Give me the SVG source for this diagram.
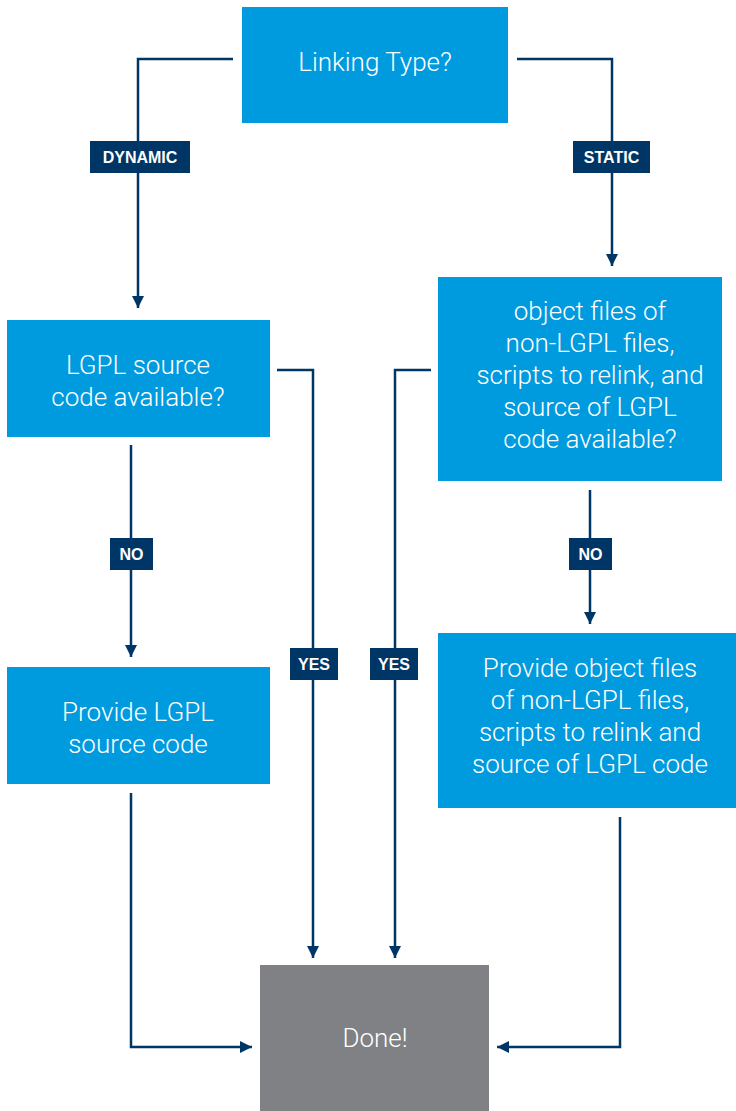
<svg xmlns="http://www.w3.org/2000/svg" width="736" height="1111" viewBox="0 0 736 1111">
<style>
.box{fill:#009ade}
.done{fill:#808184}
.t{font-family:Roboto,"Liberation Sans",sans-serif;font-weight:300;font-size:26px;fill:#fff;text-anchor:middle}
.lbl{fill:#003665}
.lt{font-family:"Liberation Sans",Arial,sans-serif;font-weight:bold;font-size:16px;fill:#fff;text-anchor:middle}
.c{fill:none;stroke:#003665;stroke-width:2.5}
</style>
<defs>
<marker id="ah" markerUnits="userSpaceOnUse" markerWidth="14" markerHeight="14" viewBox="0 0 14 14" refX="12" refY="7" orient="auto">
<path d="M0,1 L12,7 L0,13 Z" fill="#003665"/>
</marker>
</defs>
<g id="connectors">
<path class="c" d="M233,59 H138 V308" marker-end="url(#ah)"/>
<path class="c" d="M517,59 H612 V266" marker-end="url(#ah)"/>
<path class="c" d="M277,370 H313 V958" marker-end="url(#ah)"/>
<path class="c" d="M431,370 H395 V958" marker-end="url(#ah)"/>
<path class="c" d="M131,445 V657" marker-end="url(#ah)"/>
<path class="c" d="M590,490 V624" marker-end="url(#ah)"/>
<path class="c" d="M131,793 V1047 H252" marker-end="url(#ah)"/>
<path class="c" d="M620,817 V1047 H497" marker-end="url(#ah)"/>
</g>
<g id="lbl-dynamic"><rect class="lbl" x="90" y="141" width="100" height="32"/><text class="lt" x="140" y="163">DYNAMIC</text></g>
<g id="lbl-static"><rect class="lbl" x="573" y="141" width="77" height="32"/><text class="lt" x="611.5" y="163">STATIC</text></g>
<g id="lbl-no1"><rect class="lbl" x="110" y="538" width="43" height="32"/><text class="lt" x="131.5" y="560">NO</text></g>
<g id="lbl-no2"><rect class="lbl" x="569" y="538" width="43" height="32"/><text class="lt" x="590.5" y="560">NO</text></g>
<g id="lbl-yes1"><rect class="lbl" x="290" y="648" width="48" height="32"/><text class="lt" x="314" y="670">YES</text></g>
<g id="lbl-yes2"><rect class="lbl" x="370" y="648" width="48" height="32"/><text class="lt" x="394" y="670">YES</text></g>
<g id="linking-type"><rect class="box" x="242" y="7" width="266" height="116"/><text class="t" x="375" y="71">Linking Type?</text></g>
<g id="lgpl-source"><rect class="box" x="7" y="320" width="263" height="117"/><text class="t" x="138" y="374">LGPL source</text><text class="t" x="138" y="406">code available?</text></g>
<g id="object-files"><rect class="box" x="438" y="277" width="284" height="204"/>
<text class="t" x="590" y="320">object files of</text>
<text class="t" x="590" y="352">non-LGPL files,</text>
<text class="t" x="590" y="384">scripts to relink, and</text>
<text class="t" x="590" y="416">source of LGPL</text>
<text class="t" x="590" y="448">code available?</text></g>
<g id="provide-lgpl"><rect class="box" x="7" y="667" width="263" height="117"/><text class="t" x="138" y="721">Provide LGPL</text><text class="t" x="138" y="753">source code</text></g>
<g id="provide-object"><rect class="box" x="438" y="633" width="298" height="175"/>
<text class="t" x="590" y="677">Provide object files</text>
<text class="t" x="590" y="709">of non-LGPL files,</text>
<text class="t" x="590" y="741">scripts to relink and</text>
<text class="t" x="590" y="773">source of LGPL code</text></g>
<g id="done"><rect class="done" x="260" y="965" width="229" height="146"/><text class="t" x="375" y="1047">Done!</text></g>
</svg>
